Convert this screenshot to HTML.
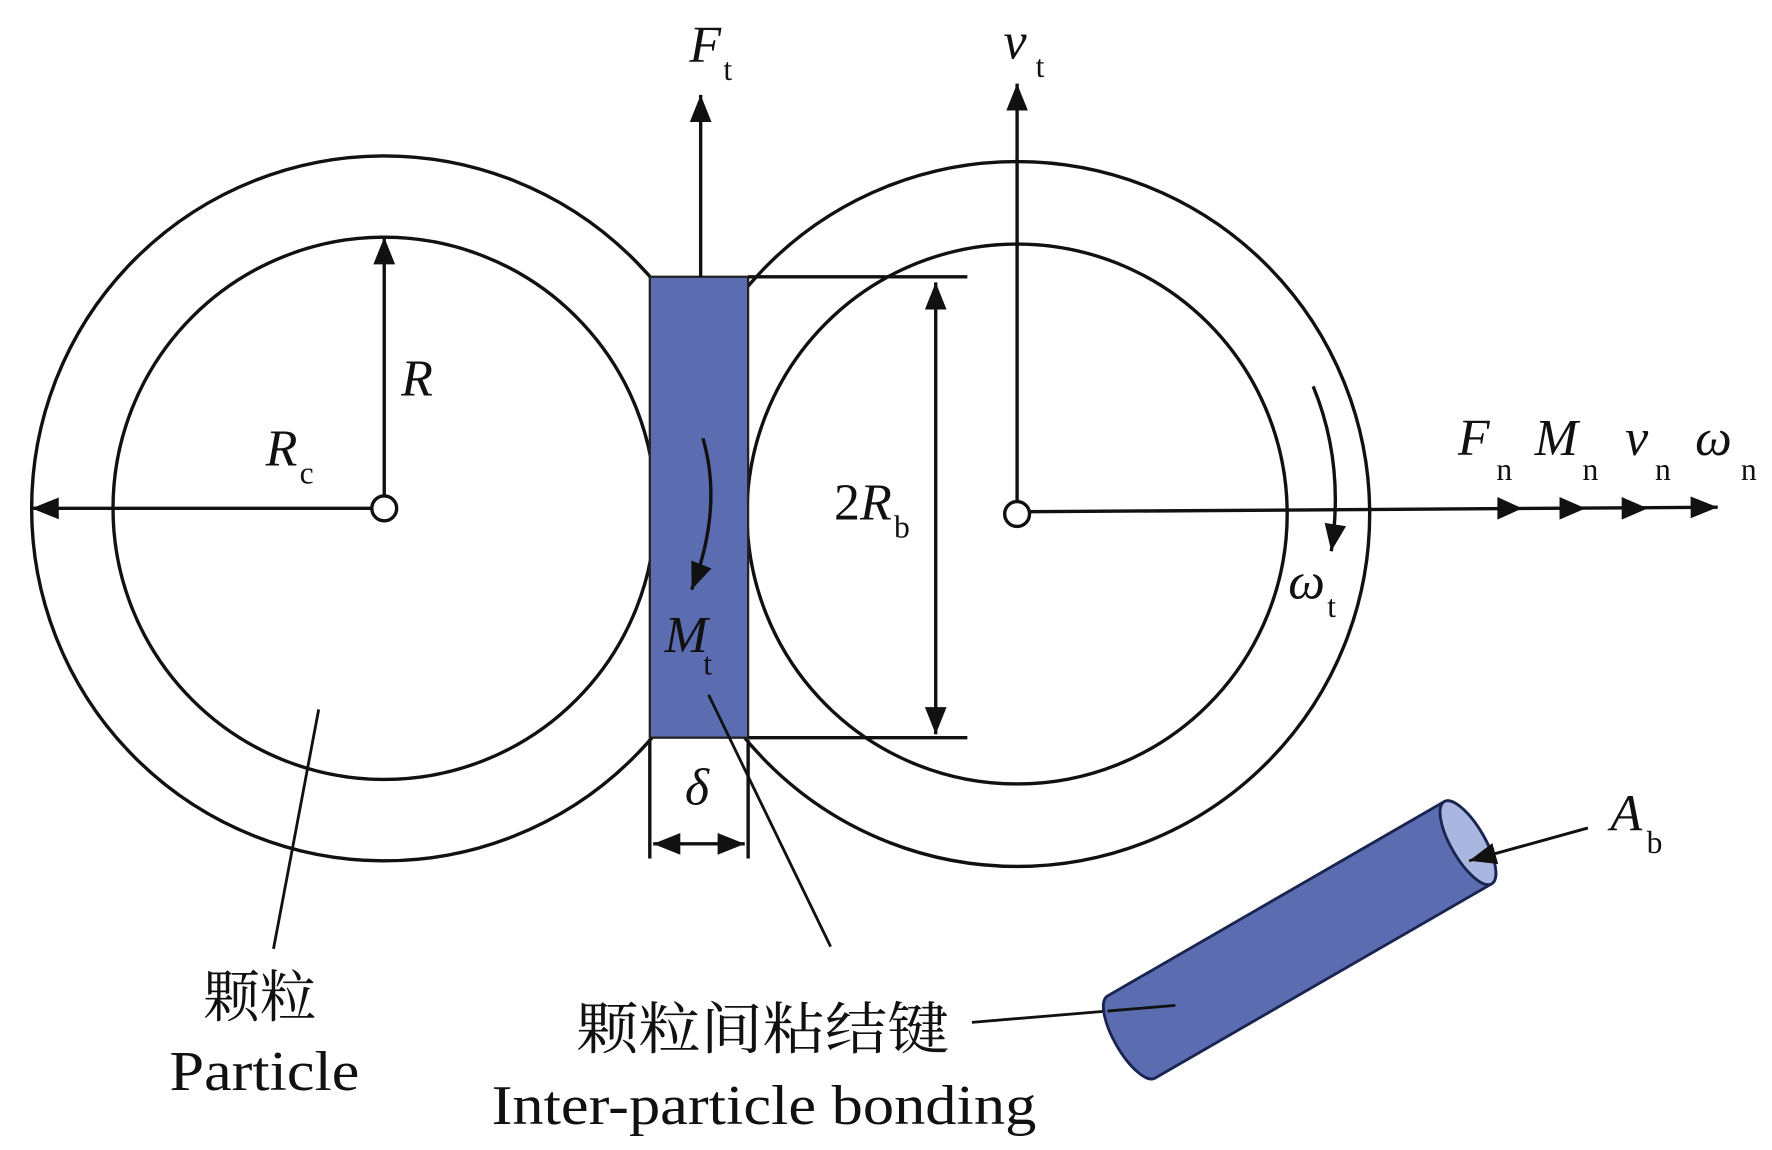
<!DOCTYPE html>
<html><head><meta charset="utf-8"><style>
html,body{margin:0;padding:0;background:#fff;}
svg{display:block;}
text{font-family:"Liberation Serif","Noto Serif CJK SC",serif;fill:#111;}
.it{font-style:italic;font-size:46px;}
.sub{font-size:28px;font-style:normal;}
</style></head><body>
<svg width="1772" height="1150" viewBox="0 0 1568 1018" preserveAspectRatio="none" xmlns="http://www.w3.org/2000/svg">
<defs>
<marker id="ah2" viewBox="0 0 10 10" refX="10" refY="5" markerWidth="24" markerHeight="24" markerUnits="userSpaceOnUse" orient="auto-start-reverse">
<path d="M0,1 L10,5 L0,9 z" fill="#111"/></marker>
</defs>
<g fill="none" stroke="#111" stroke-width="3">
<circle cx="340" cy="450" r="312"/>
<circle cx="340" cy="450" r="240"/>
<circle cx="900" cy="455" r="312"/>
<circle cx="900" cy="455" r="239"/>
</g>
<rect x="575" y="245" width="87" height="408" fill="#5b6db0" stroke="#222" stroke-width="2"/>
<g stroke="#111" stroke-width="3" fill="none">
<line x1="662" y1="245" x2="856" y2="245"/>
<line x1="662" y1="653" x2="856" y2="653"/>
<line x1="828" y1="250" x2="828" y2="650" marker-start="url(#ah2)" marker-end="url(#ah2)"/>
<line x1="620" y1="245" x2="620" y2="84" marker-end="url(#ah2)"/>
<line x1="900" y1="444" x2="900" y2="74" marker-end="url(#ah2)"/>
<line x1="340" y1="439" x2="340" y2="210" marker-end="url(#ah2)"/>
<line x1="329" y1="450" x2="28" y2="450" marker-end="url(#ah2)"/>
<line x1="911" y1="453" x2="1520" y2="449" marker-end="url(#ah2)"/>
<line x1="575" y1="655" x2="575" y2="760"/>
<line x1="662" y1="655" x2="662" y2="760"/>
<line x1="578" y1="747" x2="659" y2="747" marker-start="url(#ah2)" marker-end="url(#ah2)"/>
<path d="M1162,342 Q1190,410 1178,488" marker-end="url(#ah2)"/>
<path d="M622,388 Q640,450 612,522" marker-end="url(#ah2)"/>
<line x1="282" y1="628" x2="242" y2="840" stroke-width="2.5"/>
<line x1="627" y1="615" x2="735" y2="838" stroke-width="2.5"/>
<line x1="860" y1="905" x2="1040" y2="890" stroke-width="2.5"/>
<line x1="1405" y1="733" x2="1300" y2="762" stroke-width="2.5" marker-end="url(#ah2)"/>
</g>
<g fill="#111">
<path d="M1325,440 L1347,450 L1325,460z"/>
<path d="M1380,440 L1403,450 L1380,460z"/>
<path d="M1435,440 L1458,450 L1435,460z"/>
</g>
<circle cx="340" cy="450" r="11" fill="#fff" stroke="#111" stroke-width="3"/>
<circle cx="900" cy="455" r="11" fill="#fff" stroke="#111" stroke-width="3"/>
<g transform="translate(1150,832) rotate(-30)">
<path d="M-172,-42 L172,-42 A15,42 0 0 1 172,42 L-172,42 A15,42 0 0 1 -172,-42z" fill="#5b6db0" stroke="#1a2450" stroke-width="2.5"/>
<ellipse cx="172" cy="0" rx="15" ry="42" fill="#a9b6e0" stroke="#1a2450" stroke-width="2.5"/>
</g>
<line x1="980" y1="895" x2="1040" y2="890" stroke="#111" stroke-width="2.5"/>
<line x1="1405" y1="733" x2="1300" y2="762" stroke="#111" stroke-width="2.5" marker-end="url(#ah2)"/>
<text class="it" x="610" y="55">F<tspan class="sub" dx="2" dy="16">t</tspan></text>
<text class="it" x="888" y="52">v<tspan class="sub" dx="8" dy="16">t</tspan></text>
<text class="it" x="355" y="350">R</text>
<text class="it" x="235" y="412">R<tspan class="sub" dx="2" dy="16">c</tspan></text>
<text class="it" x="738" y="460"><tspan font-style="normal">2</tspan>R<tspan class="sub" dx="2" dy="16">b</tspan></text>
<text class="it" x="588" y="577">M<tspan class="sub" dx="-4" dy="20">t</tspan></text>
<text class="it" x="606" y="712">δ</text>
<text class="it" x="1140" y="530">ω<tspan class="sub" dx="2" dy="16">t</tspan></text>
<text class="it" x="1290" y="403">F<tspan class="sub" dx="6" dy="22">n</tspan></text>
<text class="it" x="1358" y="403">M<tspan class="sub" dx="4" dy="22">n</tspan></text>
<text class="it" x="1438" y="403">v<tspan class="sub" dx="6" dy="22">n</tspan></text>
<text class="it" x="1500" y="403">ω<tspan class="sub" dx="8" dy="22">n</tspan></text>
<text class="it" x="1425" y="735">A<tspan class="sub" dx="4" dy="20">b</tspan></text>
<text x="180" y="900" font-size="50" font-family="'Noto Serif CJK SC','Noto Sans CJK SC',serif">颗粒</text>
<text x="150" y="965" font-size="50" textLength="168" lengthAdjust="spacingAndGlyphs">Particle</text>
<text x="510" y="928" font-size="50" font-family="'Noto Serif CJK SC','Noto Sans CJK SC',serif" textLength="330" lengthAdjust="spacingAndGlyphs">颗粒间粘结键</text>
<text x="435" y="995" font-size="50" textLength="482" lengthAdjust="spacingAndGlyphs">Inter-particle bonding</text>
</svg>
</body></html>
